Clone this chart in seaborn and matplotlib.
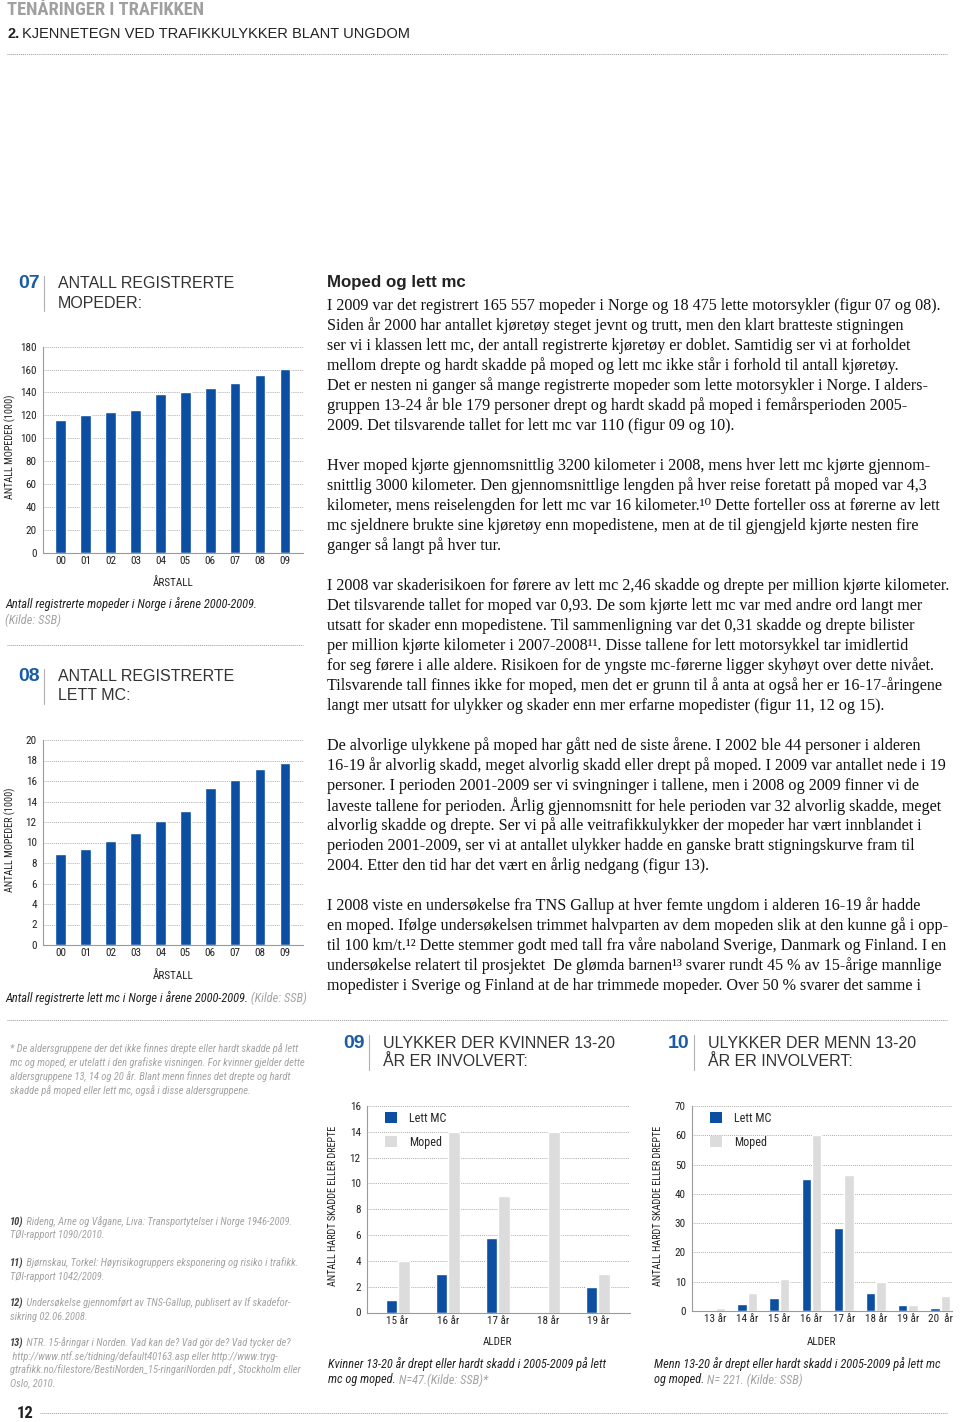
import matplotlib

matplotlib.use("Agg")

import matplotlib.pyplot as plt
import pandas as pd
import seaborn as sns
from matplotlib import font_manager
from matplotlib.lines import Line2D
from matplotlib.patches import Patch

W, H = 960, 1422

# ---- data -------------------------------------------------------------------
YEARS = ["00", "01", "02", "03", "04", "05", "06", "07", "08", "09"]
MOPEDS_1000 = [116, 120, 123, 125, 138.5, 140.5, 143.5, 148, 155, 160.5]
LETT_MC_1000 = [8.9, 9.4, 10.1, 10.9, 12.1, 13.1, 15.3, 16.1, 17.2, 17.8]

AGES_WOMEN = ["15 år", "16 år", "17 år", "18 år", "19 år"]
WOMEN_LETT_MC = [1, 3, 5.8, 0, 2]
WOMEN_MOPED = [4, 14, 9, 14, 3]

AGES_MEN = ["13 år", "14 år", "15 år", "16 år", "17 år", "18 år", "19 år", "20  år"]
MEN_LETT_MC = [0, 2.4, 4.5, 45, 28.5, 6, 2, 1]
MEN_MOPED = [1, 6, 11, 60, 46.5, 10, 2, 5]

SERIES = ["Lett MC", "Moped"]

BLUE = "#0b4ea2"
LIGHT = "#dcdcdc"
NUM_BLUE = "#1a5ca8"
GREY_TXT = "#a3a3a3"
DARK = "#222222"

TICK_SIZE = 8
YLABEL_SIZE = 7.3
CAPTION_SIZE = 8.9
NOTE_SIZE = 7.6

sns.set_theme(style="white")
_names = {f.name for f in font_manager.fontManager.ttflist}
NARROW = next(
    (n for n in ["Liberation Sans Narrow", "Roboto Condensed", "Roboto"] if n in _names),
    "DejaVu Sans",
)
SANS = "Liberation Sans"
SERIF = ["Liberation Serif", "DejaVu Serif"]
plt.rcParams["font.family"] = [SANS, "DejaVu Sans"]


def px_axes(fig, left, top, right, bottom):
    return fig.add_axes([left / W, 1 - bottom / H, (right - left) / W, (bottom - top) / H])


def put(fig, x, y, s, **kw):
    kw.setdefault("va", "center")
    return fig.text(x / W, 1 - y / H, s, **kw)


def dotted_rule(fig, x0, x1, y):
    fig.add_artist(Line2D([x0 / W, x1 / W], [1 - y / H, 1 - y / H], transform=fig.transFigure,
                          color="#9a9a9a", lw=0.7, ls=(0, (1, 1))))


def vrule(fig, x, y0, y1):
    fig.add_artist(Line2D([x / W, x / W], [1 - y0 / H, 1 - y1 / H], transform=fig.transFigure,
                          color="#b0b0b0", lw=0.8))


def two_tone(fig, x, y, first, second, size, **kw):
    t = put(fig, x, y, first, color=DARK, fontsize=size, **kw)
    r = fig.canvas.get_renderer()
    x_end = t.get_window_extent(r).x1
    put(fig, x_end, y, second, color=GREY_TXT, fontsize=size, **kw)


def chart_header(fig, x, y, num, line1, line2):
    put(fig, x, y, num, color=NUM_BLUE, fontsize=14, fontweight="bold")
    vrule(fig, x + 26, y - 8, y + 27)
    put(fig, x + 40, y, line1, color="#333333", fontsize=11.5)
    put(fig, x + 40, y + 19, line2, color="#333333", fontsize=11.5)


def style_axes(ax, yticks, xlim):
    ax.set_ylim(yticks[0], yticks[-1])
    ax.set_yticks(yticks)
    ax.set_xlim(*xlim)
    ax.grid(axis="y", color="#8c8c8c", lw=0.6, ls=(0, (1, 1.5)))
    ax.grid(axis="x", visible=False)
    ax.set_axisbelow(True)
    for side in ("top", "right"):
        ax.spines[side].set_visible(False)
    for side in ("left", "bottom"):
        ax.spines[side].set_color("#9a9a9a")
        ax.spines[side].set_linewidth(0.8)
    ax.tick_params(axis="both", length=0, labelsize=TICK_SIZE, labelcolor=DARK,
                   labelfontfamily=NARROW)
    ax.tick_params(axis="y", pad=4.5)
    ax.tick_params(axis="x", pad=2.5)
    ax.set_xlabel("")
    ax.set_ylabel("")
    ax.set_facecolor("none")


def grouped_df(ages, lett, moped):
    return pd.DataFrame({
        "alder": ages * 2,
        "antall": lett + moped,
        "type": [SERIES[0]] * len(ages) + [SERIES[1]] * len(ages),
    })


def square_legend(ax, fig, x, y):
    handles = [Patch(facecolor=BLUE, edgecolor="none"), Patch(facecolor=LIGHT, edgecolor="none")]
    ax.legend(handles, SERIES, loc="upper left", bbox_to_anchor=(x / W, 1 - y / H),
              bbox_transform=fig.transFigure, frameon=False, borderpad=0, borderaxespad=0,
              handlelength=1.0, handleheight=1.0, handletextpad=1.0, labelspacing=0.9,
              prop={"family": NARROW, "size": 8.7})


fig = plt.figure(figsize=(W / 100, H / 100), dpi=100)
fig.patch.set_facecolor("white")

# ---- page header --------------------------------------------------------------
put(fig, 7, 10, "TENÅRINGER I TRAFIKKEN", color="#a0a0a0", fontsize=13.3, fontweight="bold",
    family=NARROW)
t = put(fig, 7, 34, "2.", color=DARK, fontsize=10.5, fontweight="bold")
x_after = t.get_window_extent(fig.canvas.get_renderer()).x1
put(fig, x_after + 3, 34, "KJENNETEGN VED TRAFIKKULYKKER BLANT UNGDOM", color=DARK, fontsize=10.5)
dotted_rule(fig, 7, 947, 54)

# ---- figure 07 ----------------------------------------------------------------
chart_header(fig, 18, 284, "07", "ANTALL REGISTRERTE", "MOPEDER:")
ax7 = px_axes(fig, 43, 346.7, 303, 552.7)
sns.barplot(x=YEARS, y=MOPEDS_1000, color=BLUE, saturation=1, width=0.42, errorbar=None, ax=ax7)
style_axes(ax7, list(range(0, 181, 20)), (-0.71, 9.72))
put(fig, 173, 583, "ÅRSTALL", ha="center", fontsize=TICK_SIZE, family=NARROW, color=DARK)
put(fig, 10, 447, "ANTALL MOPEDER (1000)", ha="center", rotation=90, fontsize=YLABEL_SIZE,
    family=NARROW, color=DARK)
put(fig, 5, 604, "Antall registrerte mopeder i Norge i årene 2000-2009.", color=DARK,
    fontsize=CAPTION_SIZE, style="italic", family=NARROW)
put(fig, 5, 620, "(Kilde: SSB)", color=GREY_TXT, fontsize=CAPTION_SIZE, style="italic",
    family=NARROW)
dotted_rule(fig, 7, 303, 645)

# ---- figure 08 ----------------------------------------------------------------
chart_header(fig, 18, 677, "08", "ANTALL REGISTRERTE", "LETT MC:")
ax8 = px_axes(fig, 43, 740, 303, 945)
sns.barplot(x=YEARS, y=LETT_MC_1000, color=BLUE, saturation=1, width=0.42, errorbar=None, ax=ax8)
style_axes(ax8, list(range(0, 21, 2)), (-0.71, 9.72))
put(fig, 173, 976, "ÅRSTALL", ha="center", fontsize=TICK_SIZE, family=NARROW, color=DARK)
put(fig, 10, 840, "ANTALL MOPEDER (1000)", ha="center", rotation=90, fontsize=YLABEL_SIZE,
    family=NARROW, color=DARK)
two_tone(fig, 5, 998, "Antall registrerte lett mc i Norge i årene 2000-2009.", " (Kilde: SSB)",
         CAPTION_SIZE, style="italic", family=NARROW)
dotted_rule(fig, 7, 947, 1020)

# ---- body text ----------------------------------------------------------------
put(fig, 327, 283, "Moped og lett mc", color=DARK, fontsize=12.2, fontweight="bold")
BODY = [
    "I 2009 var det registrert 165 557 mopeder i Norge og 18 475 lette motorsykler (figur 07 og 08).",
    "Siden år 2000 har antallet kjøretøy steget jevnt og trutt, men den klart bratteste stigningen",
    "ser vi i klassen lett mc, der antall registrerte kjøretøy er doblet. Samtidig ser vi at forholdet",
    "mellom drepte og hardt skadde på moped og lett mc ikke står i forhold til antall kjøretøy.",
    "Det er nesten ni ganger så mange registrerte mopeder som lette motorsykler i Norge. I alders-",
    "gruppen 13-24 år ble 179 personer drept og hardt skadd på moped i femårsperioden 2005-",
    "2009. Det tilsvarende tallet for lett mc var 110 (figur 09 og 10).",
    "",
    "Hver moped kjørte gjennomsnittlig 3200 kilometer i 2008, mens hver lett mc kjørte gjennom-",
    "snittlig 3000 kilometer. Den gjennomsnittlige lengden på hver reise foretatt på moped var 4,3",
    "kilometer, mens reiselengden for lett mc var 16 kilometer.¹⁰ Dette forteller oss at førerne av lett",
    "mc sjeldnere brukte sine kjøretøy enn mopedistene, men at de til gjengjeld kjørte nesten fire",
    "ganger så langt på hver tur.",
    "",
    "I 2008 var skaderisikoen for førere av lett mc 2,46 skadde og drepte per million kjørte kilometer.",
    "Det tilsvarende tallet for moped var 0,93. De som kjørte lett mc var med andre ord langt mer",
    "utsatt for skader enn mopedistene. Til sammenligning var det 0,31 skadde og drepte bilister",
    "per million kjørte kilometer i 2007-2008¹¹. Disse tallene for lett motorsykkel tar imidlertid",
    "for seg førere i alle aldere. Risikoen for de yngste mc-førerne ligger skyhøyt over dette nivået.",
    "Tilsvarende tall finnes ikke for moped, men det er grunn til å anta at også her er 16-17-åringene",
    "langt mer utsatt for ulykker og skader enn mer erfarne mopedister (figur 11, 12 og 15).",
    "",
    "De alvorlige ulykkene på moped har gått ned de siste årene. I 2002 ble 44 personer i alderen",
    "16-19 år alvorlig skadd, meget alvorlig skadd eller drept på moped. I 2009 var antallet nede i 19",
    "personer. I perioden 2001-2009 ser vi svingninger i tallene, men i 2008 og 2009 finner vi de",
    "laveste tallene for perioden. Årlig gjennomsnitt for hele perioden var 32 alvorlig skadde, meget",
    "alvorlig skadde og drepte. Ser vi på alle veitrafikkulykker der mopeder har vært innblandet i",
    "perioden 2001-2009, ser vi at antallet ulykker hadde en ganske bratt stigningskurve fram til",
    "2004. Etter den tid har det vært en årlig nedgang (figur 13).",
    "",
    "I 2008 viste en undersøkelse fra TNS Gallup at hver femte ungdom i alderen 16-19 år hadde",
    "en moped. Ifølge undersøkelsen trimmet halvparten av dem mopeden slik at den kunne gå i opp-",
    "til 100 km/t.¹² Dette stemmer godt med tall fra våre naboland Sverige, Danmark og Finland. I en",
    "undersøkelse relatert til prosjektet  De glømda barnen¹³ svarer rundt 45 % av 15-årige mannlige",
    "mopedister i Sverige og Finland at de har trimmede mopeder. Over 50 % svarer det samme i",
]
for i, line in enumerate(BODY):
    if line:
        put(fig, 327, 306 + 20 * i, line, color="#111111", fontsize=11.6, family=SERIF)

# ---- footnotes (left column) --------------------------------------------------
STAR_NOTE = [
    "* De aldersgruppene der det ikke finnes drepte eller hardt skadde på lett",
    "mc og moped, er utelatt i den grafiske visningen. For kvinner gjelder dette",
    "aldersgruppene 13, 14 og 20 år. Blant menn finnes det drepte og hardt",
    "skadde på moped eller lett mc, også i disse aldersgruppene.",
]
for i, line in enumerate(STAR_NOTE):
    put(fig, 10, 1049 + 13.7 * i, line, color=GREY_TXT, fontsize=NOTE_SIZE, style="italic",
        family=NARROW)

REFS = [
    ("10)", [" Rideng, Arne og Vågane, Liva: Transportytelser i Norge 1946-2009.",
             "TØI-rapport 1090/2010."], 1222),
    ("11)", [" Bjørnskau, Torkel: Høyrisikogruppers eksponering og risiko i trafikk.",
             "TØI-rapport 1042/2009."], 1263),
    ("12)", [" Undersøkelse gjennomført av TNS-Gallup, publisert av If skadefor-",
             "sikring 02.06.2008."], 1303),
    ("13)", [" NTR. 15-åringar i Norden. Vad kan de? Vad gör de? Vad tycker de?",
             " http://www.ntf.se/tidning/default40163.asp eller http://www.tryg-",
             "gtrafikk.no/filestore/BestiNorden_15-ringariNorden.pdf , Stockholm eller",
             "Oslo, 2010."], 1343),
]
r = fig.canvas.get_renderer()
for num, lines, y0 in REFS:
    t = put(fig, 10, y0, num, color="#444444", fontsize=NOTE_SIZE, style="italic",
            fontweight="bold", family=NARROW)
    xe = t.get_window_extent(r).x1
    put(fig, xe, y0, lines[0], color=GREY_TXT, fontsize=NOTE_SIZE, style="italic", family=NARROW)
    for j, line in enumerate(lines[1:], start=1):
        put(fig, 10, y0 + 13.5 * j, line, color=GREY_TXT, fontsize=NOTE_SIZE, style="italic",
            family=NARROW)

# ---- figure 09 ----------------------------------------------------------------
chart_header(fig, 343, 1043, "09", "ULYKKER DER KVINNER 13-20", "ÅR ER INVOLVERT:")
ax9 = px_axes(fig, 367, 1106, 630, 1312.5)
sns.barplot(data=grouped_df(AGES_WOMEN, WOMEN_LETT_MC, WOMEN_MOPED), x="alder", y="antall",
            hue="type", palette=[BLUE, LIGHT], saturation=1, width=0.5, gap=0.08,
            errorbar=None, legend=False, ax=ax9)
style_axes(ax9, list(range(0, 17, 2)), (-0.61, 4.64))
square_legend(ax9, fig, 385, 1112)
put(fig, 498, 1342, "ALDER", ha="center", fontsize=TICK_SIZE, family=NARROW, color=DARK)
put(fig, 333, 1206, "ANTALL HARDT SKADDE ELLER DREPTE", ha="center", rotation=90,
    fontsize=YLABEL_SIZE, family=NARROW, color=DARK)
put(fig, 328, 1364, "Kvinner 13-20 år drept eller hardt skadd i 2005-2009 på lett", color=DARK,
    fontsize=CAPTION_SIZE, style="italic", family=NARROW)
two_tone(fig, 328, 1380, "mc og moped.", " N=47.(Kilde: SSB)*", CAPTION_SIZE, style="italic",
         family=NARROW)

# ---- figure 10 ----------------------------------------------------------------
chart_header(fig, 668, 1043, "10", "ULYKKER DER MENN 13-20", "ÅR ER INVOLVERT:")
ax10 = px_axes(fig, 692, 1106, 952, 1311)
sns.barplot(data=grouped_df(AGES_MEN, MEN_LETT_MC, MEN_MOPED), x="alder", y="antall",
            hue="type", palette=[BLUE, LIGHT], saturation=1, width=0.65, gap=0.1,
            errorbar=None, legend=False, ax=ax10)
style_axes(ax10, list(range(0, 71, 10)), (-0.72, 7.37))
square_legend(ax10, fig, 710, 1112)
put(fig, 822, 1342, "ALDER", ha="center", fontsize=TICK_SIZE, family=NARROW, color=DARK)
put(fig, 658, 1206, "ANTALL HARDT SKADDE ELLER DREPTE", ha="center", rotation=90,
    fontsize=YLABEL_SIZE, family=NARROW, color=DARK)
put(fig, 654, 1364, "Menn 13-20 år drept eller hardt skadd i 2005-2009 på lett mc", color=DARK,
    fontsize=CAPTION_SIZE, style="italic", family=NARROW)
two_tone(fig, 654, 1380, "og moped.", " N= 221. (Kilde: SSB)", CAPTION_SIZE, style="italic",
         family=NARROW)

# ---- page footer --------------------------------------------------------------
put(fig, 17, 1413, "12", color=DARK, fontsize=12, fontweight="bold", family=NARROW)
dotted_rule(fig, 40, 947, 1413)

fig.savefig("out.png", dpi=100, facecolor="white")
plt.close(fig)
